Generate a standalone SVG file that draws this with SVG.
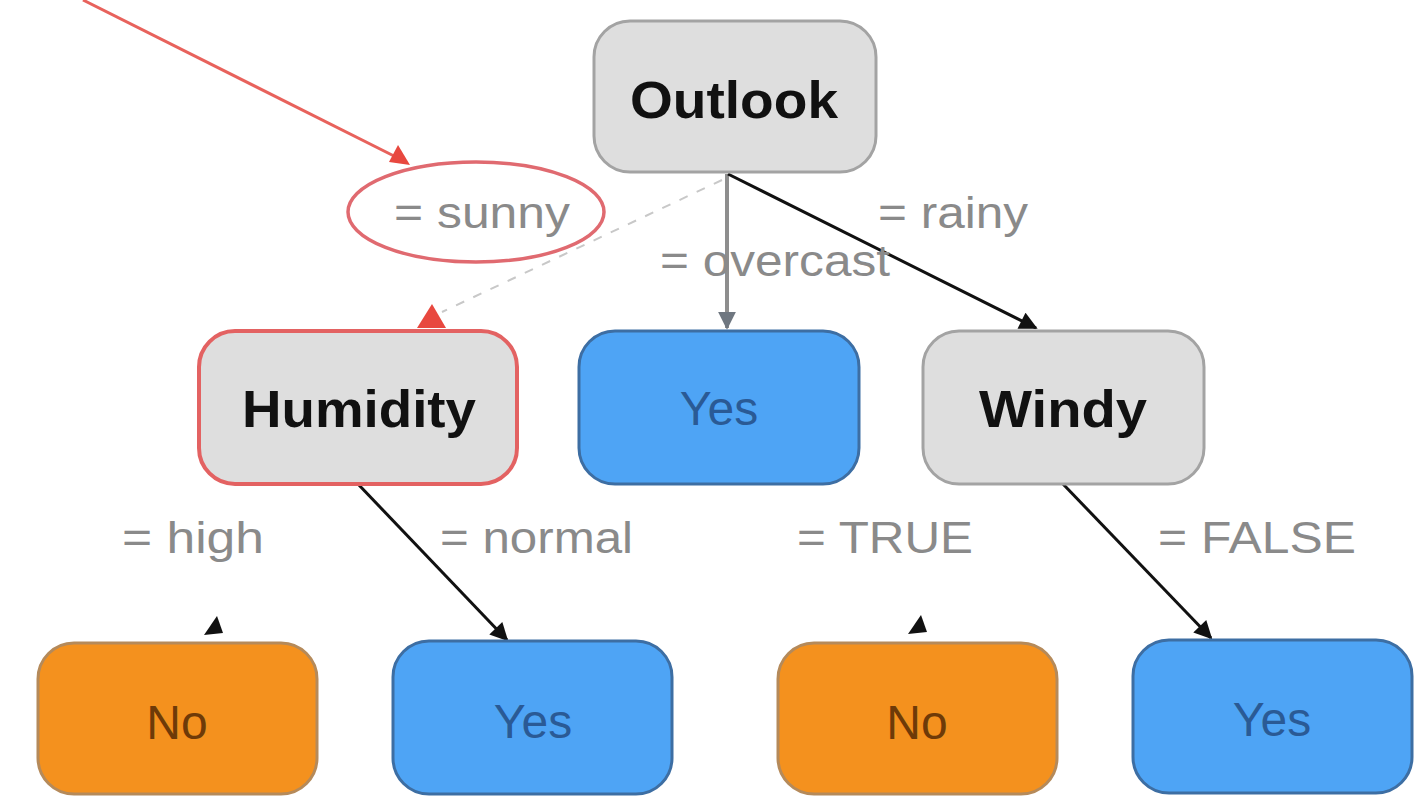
<svg xmlns="http://www.w3.org/2000/svg" width="1422" height="811" viewBox="0 0 1422 811">
<defs>
<marker id="ab" viewBox="0 0 10 10" refX="9" refY="5" markerWidth="20" markerHeight="18" orient="auto" markerUnits="userSpaceOnUse">
<path d="M0,0 L10,5 L0,10 z" fill="#111"/>
</marker>
<marker id="ag" viewBox="0 0 10 10" refX="9" refY="5" markerWidth="18" markerHeight="18" orient="auto" markerUnits="userSpaceOnUse">
<path d="M0,0 L10,5 L0,10 z" fill="#6f7780"/>
</marker>
<style>
.gray{fill:#dedede;stroke:#a3a3a3;stroke-width:3}
.blue{fill:#4ea4f5;stroke:#3d6ea3;stroke-width:3}
.orange{fill:#f4911e;stroke:#b58a5a;stroke-width:3}
.hl{fill:#dedede;stroke:#e36262;stroke-width:4}
.tb{font-family:"Liberation Sans",Arial,sans-serif;font-weight:bold;font-size:52px;fill:#111;text-anchor:middle}
.ty{font-family:"Liberation Sans",Arial,sans-serif;font-size:48px;fill:#2a5a95;text-anchor:middle}
.tn{font-family:"Liberation Sans",Arial,sans-serif;font-size:48px;fill:#6e3a08;text-anchor:middle}
.lbl{font-family:"Liberation Sans",Arial,sans-serif;font-size:44px;fill:#8a8a8a}
.edge{fill:none;stroke:#111;stroke-width:3}
</style>
</defs>
<rect width="1422" height="811" fill="#ffffff"/>
<g id="connectors">
<line x1="83" y1="0" x2="396" y2="157" stroke="#e8625c" stroke-width="3"/>
<path d="M410,165 L389,162 L398,145 z" fill="#e8483f"/>
<line x1="722" y1="180" x2="442" y2="312" stroke="#c8c8c8" stroke-width="2" stroke-dasharray="9 10"/>
<path d="M432,304 L446,328 L417,328 z" fill="#e8483f"/>
<line x1="727" y1="174" x2="727" y2="328" stroke="#8e8e8e" stroke-width="4" marker-end="url(#ag)"/>
<line x1="728" y1="174" x2="1036" y2="328" class="edge" stroke-width="4" marker-end="url(#ab)"/>
<line x1="358" y1="484" x2="507" y2="640" class="edge" marker-end="url(#ab)"/>
<line x1="1063" y1="484" x2="1211" y2="638" class="edge" marker-end="url(#ab)"/>
<path d="M217,616 L223,633 L204,635 z" fill="#111"/>
<path d="M921,615 L927,632 L908,634 z" fill="#111"/>
<g id="labels">
<ellipse cx="476" cy="212" rx="128" ry="50" fill="#ffffff" stroke="#e06a70" stroke-width="3.5"/>
<text class="lbl" x="394" y="228" textLength="176" lengthAdjust="spacingAndGlyphs">= sunny</text>
<text class="lbl" x="660" y="276" textLength="230" lengthAdjust="spacingAndGlyphs">= overcast</text>
<text class="lbl" x="878" y="228" textLength="150" lengthAdjust="spacingAndGlyphs">= rainy</text>
<text class="lbl" x="122" y="553" textLength="142" lengthAdjust="spacingAndGlyphs">= high</text>
<text class="lbl" x="440" y="553" textLength="193" lengthAdjust="spacingAndGlyphs">= normal</text>
<text class="lbl" x="797" y="553" textLength="176" lengthAdjust="spacingAndGlyphs">= TRUE</text>
<text class="lbl" x="1158" y="553" textLength="198" lengthAdjust="spacingAndGlyphs">= FALSE</text>
</g>
</g>
<g id="outlook">
<rect x="594" y="21" width="282" height="151" rx="36" class="gray"/>
<text class="tb" x="734" y="118" textLength="208" lengthAdjust="spacingAndGlyphs">Outlook</text>
</g>
<g id="humidity">
<rect x="199" y="331" width="318" height="153" rx="36" class="hl"/>
<text class="tb" x="359" y="427" textLength="234" lengthAdjust="spacingAndGlyphs">Humidity</text>
</g>
<g id="yes-overcast">
<rect x="579" y="331" width="280" height="153" rx="36" class="blue"/>
<text class="ty" x="719" y="425">Yes</text>
</g>
<g id="windy">
<rect x="923" y="331" width="281" height="153" rx="36" class="gray"/>
<text class="tb" x="1063" y="427" textLength="168" lengthAdjust="spacingAndGlyphs">Windy</text>
</g>
<g id="no-high">
<rect x="38" y="643" width="279" height="151" rx="36" class="orange"/>
<text class="tn" x="177" y="739">No</text>
</g>
<g id="yes-normal">
<rect x="393" y="641" width="279" height="153" rx="36" class="blue"/>
<text class="ty" x="533" y="738">Yes</text>
</g>
<g id="no-true">
<rect x="778" y="643" width="279" height="151" rx="36" class="orange"/>
<text class="tn" x="917" y="739">No</text>
</g>
<g id="yes-false">
<rect x="1133" y="640" width="279" height="153" rx="36" class="blue"/>
<text class="ty" x="1272" y="736">Yes</text>
</g>
</svg>
